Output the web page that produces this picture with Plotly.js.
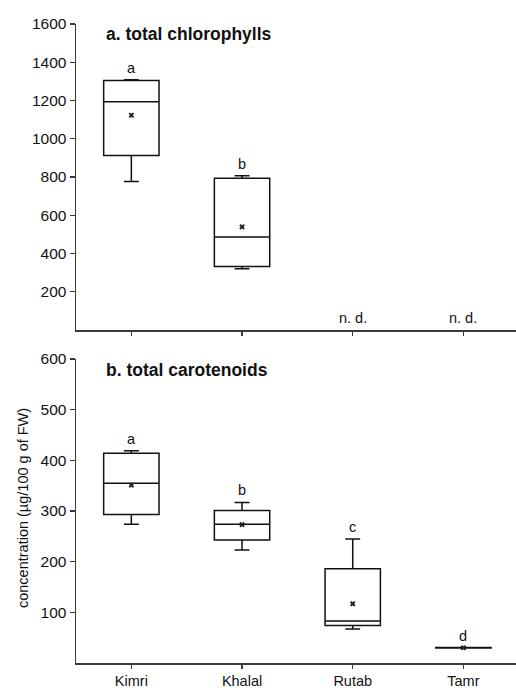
<!DOCTYPE html>
<html>
<head>
<meta charset="utf-8">
<script src="https://cdn.plot.ly/plotly-3.0.1.min.js"></script>
<style>html,body{margin:0;padding:0;background:#fff;}#chart{width:516px;height:688px;}</style>
</head>
<body>
<div id="chart"></div>
<script>
// ---- data ----
const stages = ["Kimri", "Khalal", "Rutab", "Tamr"];

// a. total chlorophylls (Rutab, Tamr not detected)
const chlStages = ["Kimri", "Khalal"];
const chlLowerFence = [777, 320];
const chlQ1 = [913, 332];
const chlMedian = [1193, 486];
const chlQ3 = [1305, 793];
const chlUpperFence = [1309, 806];
const chlMean = [1123, 539];
const chlLetters = ["a", "b", "n. d.", "n. d."];
const chlLetterBase = [1309, 806, 0, 0];

// b. total carotenoids
const carLowerFence = [274, 223, 67, 29.5];
const carQ1 = [293, 243, 74, 29.5];
const carMedian = [355, 274, 83, 30];
const carQ3 = [414, 301, 186, 30.5];
const carUpperFence = [419, 317, 245, 30.5];
const carMean = [351, 273, 117, 30];
const carLetters = ["a", "b", "c", "d"];

const chlTicks = [200, 400, 600, 800, 1000, 1200, 1400, 1600];
const carTicks = [100, 200, 300, 400, 500, 600];

const titleA = "a. total chlorophylls";
const titleB = "b. total carotenoids";
const yTitle = "concentration (µg/100 g of FW)";

// ---- styles ----
const FONT = "Liberation Sans, Arial, sans-serif";
const axisCol = "#3a3a3a";

const boxStyle = {
  type: "box",
  line: {color: "#111", width: 1.5},
  fillcolor: "rgba(255,255,255,0)",
  width: 0.5,
  whiskerwidth: 0.27,
  boxpoints: false,
  hoverinfo: "skip",
  showlegend: false
};

const traces = [
  Object.assign({}, boxStyle, {
    x: chlStages, q1: chlQ1, median: chlMedian, q3: chlQ3,
    lowerfence: chlLowerFence, upperfence: chlUpperFence,
    xaxis: "x", yaxis: "y"
  }),
  {
    type: "scatter", mode: "markers", x: chlStages, y: chlMean,
    marker: {symbol: "x", size: 5, color: "#222"},
    xaxis: "x", yaxis: "y", showlegend: false, hoverinfo: "skip"
  },
  Object.assign({}, boxStyle, {
    x: stages, q1: carQ1, median: carMedian, q3: carQ3,
    lowerfence: carLowerFence, upperfence: carUpperFence,
    xaxis: "x2", yaxis: "y2"
  }),
  {
    type: "scatter", mode: "markers", x: stages, y: carMean,
    marker: {symbol: "x", size: 5, color: "#222"},
    xaxis: "x2", yaxis: "y2", showlegend: false, hoverinfo: "skip"
  }
];

const annotations = [];
stages.forEach((s, i) => {
  annotations.push({
    xref: "x", yref: "y", x: s, y: chlLetterBase[i], text: chlLetters[i],
    showarrow: false, yanchor: "bottom", yshift: 2,
    font: {family: FONT, size: 14.5, color: "#111"}
  });
  annotations.push({
    xref: "x2", yref: "y2", x: s, y: carUpperFence[i], text: carLetters[i],
    showarrow: false, yanchor: "bottom", yshift: 2,
    font: {family: FONT, size: 14.5, color: "#111"}
  });
});
annotations.push({
  xref: "paper", yref: "paper", x: 0.063, y: 0.985, xanchor: "left", yanchor: "middle",
  text: "<b>" + titleA + "</b>", showarrow: false,
  font: {family: FONT, size: 17.5, color: "#111"}
});
annotations.push({
  xref: "paper", yref: "paper", x: 0.063, y: 0.459, xanchor: "left", yanchor: "middle",
  text: "<b>" + titleB + "</b>", showarrow: false,
  font: {family: FONT, size: 17.5, color: "#111"}
});
annotations.push({
  xref: "paper", yref: "paper", x: -0.122, y: 0.243, xanchor: "center", yanchor: "middle",
  text: yTitle, textangle: -90, showarrow: false,
  font: {family: FONT, size: 14.5, color: "#111"}
});

const xBase = {
  type: "category", categoryorder: "array", categoryarray: stages,
  range: [-0.5, 3.475], showline: true, linecolor: axisCol, linewidth: 1.5,
  ticks: "outside", ticklen: 4, tickwidth: 1.2, tickcolor: axisCol,
  showgrid: false, zeroline: false, fixedrange: true,
  tickfont: {family: FONT, size: 14.5, color: "#111"}
};
const yBase = {
  showline: true, linecolor: axisCol, linewidth: 1.5,
  ticks: "outside", ticklen: 5, tickwidth: 1.2, tickcolor: axisCol,
  showgrid: false, zeroline: false, fixedrange: true,
  tickmode: "array",
  tickfont: {family: FONT, size: 15.5, color: "#111"}
};

const layout = {
  width: 516, height: 688,
  margin: {l: 76, r: 0, t: 24, b: 25},
  paper_bgcolor: "#fff", plot_bgcolor: "#fff",
  font: {family: FONT, color: "#111"},
  showlegend: false,
  xaxis: Object.assign({}, xBase, {anchor: "y", showticklabels: false}),
  yaxis: Object.assign({}, yBase, {domain: [0.5211, 1], range: [0, 1600], tickvals: chlTicks, anchor: "x"}),
  xaxis2: Object.assign({}, xBase, {anchor: "y2"}),
  yaxis2: Object.assign({}, yBase, {domain: [0, 0.4757], range: [0, 600], tickvals: carTicks, anchor: "x2"}),
  annotations: annotations
};

Plotly.newPlot("chart", traces, layout, {displayModeBar: false, staticPlot: true});
</script>
</body>
</html>
